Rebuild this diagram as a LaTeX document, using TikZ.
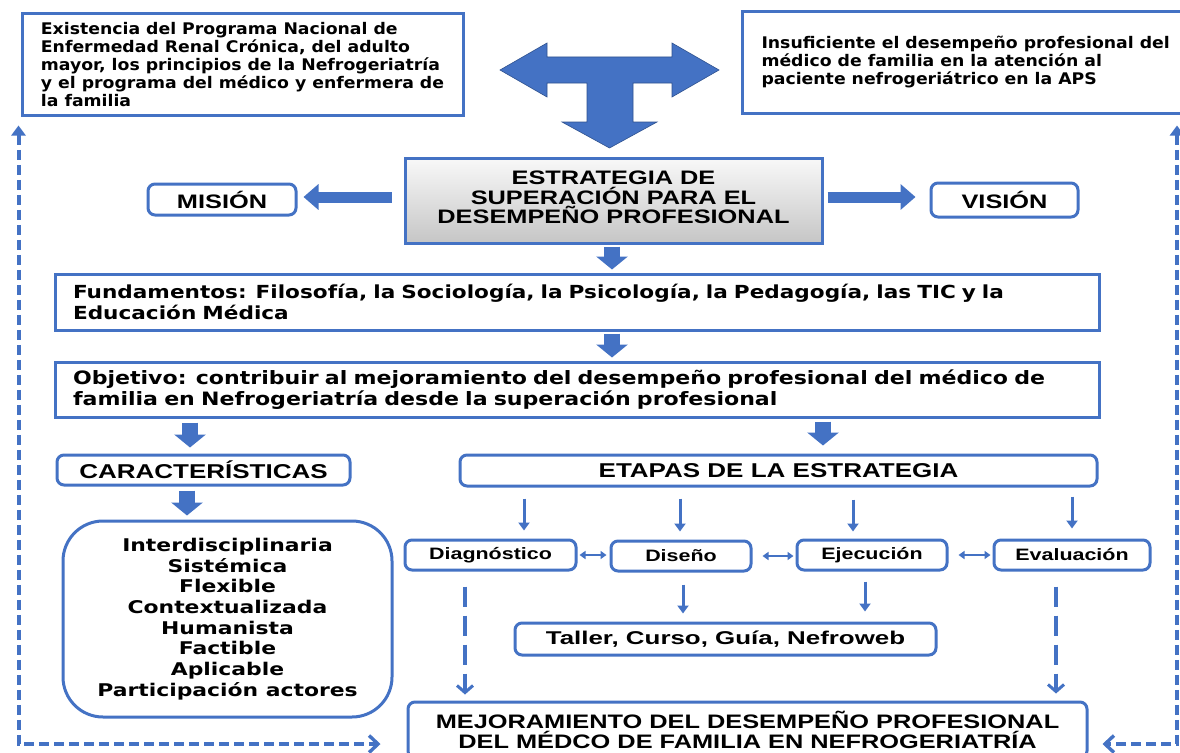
\documentclass[tikz,border=0pt]{standalone}
\usepackage{fontspec}
\setmainfont{Liberation Sans}
\newfontfamily\fv{DejaVu Sans}[FakeStretch=1.08]
\newfontfamily\fvm{DejaVu Sans}[FakeStretch=1.2]
\newfontfamily\fvw{DejaVu Sans}[FakeStretch=1.25]
\newfontfamily\fa{Liberation Sans}[FakeStretch=1.3]
\newfontfamily\fat{Liberation Sans}[FakeStretch=1.4]
\usetikzlibrary{arrows.meta,calc}
\definecolor{ob}{HTML}{4472C4}
\definecolor{obd}{HTML}{2F528F}
\begin{document}
\begin{tikzpicture}[x=1pt,y=-1pt,
  sq/.style={draw=ob, line width=3pt, fill=white, inner sep=0pt, align=center},
  rbox/.style={sq, rounded corners=7pt},
  blkd/.style={draw=ob, line width=16pt, -{Triangle[width=31pt,length=13pt]}},
  blkh/.style={draw=ob, line width=11pt, -{Triangle[width=25pt,length=15pt]}},
  tarr/.style={draw=ob, line width=3pt, -{Triangle[width=11pt,length=8pt]}},
  darr/.style={draw=ob, line width=1.8pt, {Triangle[width=8pt,length=6pt]}-{Triangle[width=8pt,length=6pt]}},
  dasharr/.style={draw=ob, line width=3.2pt, dash pattern=on 20pt off 9pt,
    -{Straight Barb[width=16pt,length=7pt,line width=3pt]}},
  fbline/.style={draw=ob, line width=4pt, dash pattern=on 10pt off 5pt,
    {Triangle[width=14pt,length=10pt]}-{Straight Barb[width=17pt,length=9pt,line width=3.4pt]}},
  fcal/.style={font=\fv\bfseries\fontsize{16}{18}\selectfont},
  farial/.style={font=\fa\bfseries\fontsize{19.5}{19.5}\selectfont},
  fstage/.style={font=\fa\bfseries\fontsize{16.5}{18}\selectfont}
]
\useasboundingbox (0,0) rectangle (1180,752);
\fill[white] (0,0) rectangle (1180,752);

% top boxes
\node[sq, fcal, align=left, minimum width=441pt, minimum height=101pt] (ant) at (242.5,64.5)
  {Existencia del Programa Nacional de\\Enfermedad Renal Crónica, del adulto\\mayor, los principios de la Nefrogeriatría\\y el programa del médico y enfermera de\\la familia};
\node[sq, fcal, align=left, anchor=west, inner xsep=19pt, minimum height=101pt] (prob) at (741,62.5)
  {Insuficiente el desempeño profesional del\\médico de familia en la atención al\\paciente nefrogeriátrico en la APS};

% T arrow
\filldraw[fill=ob, draw=obd, line width=0.6pt]
  (500,70) -- (547,43) -- (547,57) -- (672,57) -- (672,43) -- (719,70) -- (672,97) -- (672,83)
  -- (633,83) -- (633,122) -- (657,122) -- (609.5,148) -- (562,122) -- (587,122) -- (587,83)
  -- (547,83) -- (547,97) -- cycle;

% strategy
\node[sq, farial, top color=gray!5, bottom color=gray!45, minimum width=417pt, minimum height=85pt] (est) at (613.5,200.5)
  {ESTRATEGIA DE\\SUPERACIÓN PARA EL\\DESEMPEÑO PROFESIONAL\\[-13pt]\mbox{}};
\node[rbox, farial, minimum width=148pt, minimum height=31pt] (mis) at (222,199.5) {MISIÓN};
\node[rbox, farial, minimum width=147pt, minimum height=34pt] (vis) at (1004.5,200) {VISIÓN};
\draw[blkh, shorten <=12pt, shorten >=6pt] (est.west |- 0,197) -- (mis.east |- 0,197);
\draw[blkh, shorten <=4pt, shorten >=14pt] (est.east |- 0,197) -- (vis.west |- 0,197);

% fundamentos / objetivo
\node[sq, font=\fvm\bfseries\fontsize{18}{21.5}\selectfont, align=left, text width=1008pt, minimum width=1044pt, minimum height=56pt] (fun) at (577,302)
  {Fundamentos: Filosofía, la Sociología, la Psicología, la Pedagogía, las TIC y la\\Educación Médica};
\node[sq, font=\fvm\bfseries\fontsize{18.4}{21.5}\selectfont, align=left, text width=1008pt, minimum width=1044pt, minimum height=55pt] (obj) at (577,389.5)
  {Objetivo: contribuir al mejoramiento del desempeño profesional del médico de\\familia en Nefrogeriatría desde la superación profesional};
\draw[blkd, shorten <=2pt, shorten >=3pt] (612,0 |- est.south) -- (612,0 |- fun.north);
\draw[blkd, shorten <=2pt, shorten >=3pt] (612,0 |- fun.south) -- (612,0 |- obj.north);

% caracteristicas
\node[rbox, font=\fa\bfseries\fontsize{20}{20}\selectfont, minimum width=293pt, minimum height=30pt] (car) at (203.5,470) {CARACTERÍSTICAS};
\node[sq, rounded corners=40pt, font=\fvw\bfseries\fontsize{17.5}{20.7}\selectfont, minimum width=329pt, minimum height=196pt] (lst) at (227.5,619)
  {Interdisciplinaria\\Sistémica\\Flexible\\Contextualizada\\Humanista\\Factible\\Aplicable\\Participación actores};
\draw[blkd, shorten <=4pt, shorten >=6pt] (190,0 |- obj.south) -- (190,0 |- car.north);
\draw[blkd, shorten <=4pt, shorten >=4pt] (187,0 |- car.south) -- (187,0 |- lst.north);

% etapas
\node[rbox, font=\fa\bfseries\fontsize{20}{20}\selectfont, minimum width=637pt, minimum height=31pt] (eta) at (778.5,470.5) {ETAPAS DE LA ESTRATEGIA};
\draw[blkd, shorten <=3pt, shorten >=8pt] (823,0 |- obj.south) -- (823,0 |- eta.north);
\node[rbox, fstage, minimum width=171pt, minimum height=30pt] (diag) at (490.5,555) {Diagnóstico};
\node[rbox, fstage, minimum width=140pt, minimum height=30pt] (dis) at (681,556) {Diseño};
\node[rbox, fstage, minimum width=150pt, minimum height=30pt] (eje) at (872,555) {Ejecución};
\node[rbox, fstage, minimum width=156pt, minimum height=30pt] (eva) at (1072,555) {Evaluación};
\node[rbox, font=\fat\bfseries\fontsize{18.5}{19}\selectfont, minimum width=421pt, minimum height=32pt] (tal) at (725.5,639) {Taller, Curso, Guía, Nefroweb};
\node[rbox, farial, minimum width=679pt, minimum height=56pt] (mej) at (747.5,730)
  {MEJORAMIENTO DEL DESEMPEÑO PROFESIONAL\\DEL MÉDCO DE FAMILIA EN NEFROGERIATRÍA};

% etapas -> stages
\draw[tarr, shorten <=11pt, shorten >=8pt] (524,0 |- eta.south) -- (524,0 |- diag.north);
\draw[tarr, shorten <=11pt, shorten >=8pt] (680,0 |- eta.south) -- (680,0 |- dis.north);
\draw[tarr, shorten <=12pt, shorten >=7pt] (853,0 |- eta.south) -- (853,0 |- eje.north);
\draw[tarr, shorten <=9pt, shorten >=10pt] (1072,0 |- eta.south) -- (1072,0 |- eva.north);

% between stages
\draw[darr, shorten <=2pt, shorten >=3pt] (diag.east) -- (diag.east -| dis.west);
\draw[darr, shorten <=10pt, shorten >=2pt] (dis.east) -- (dis.east -| eje.west);
\draw[darr, shorten <=10pt, shorten >=2pt] (eje.east) -- (eje.east -| eva.west);

% stages -> products
\draw[tarr, shorten <=12pt, shorten >=8pt] (683,0 |- dis.south) -- (683,0 |- tal.north);
\draw[tarr, shorten <=10pt, shorten >=10pt] (865,0 |- eje.south) -- (865,0 |- tal.north);

% dashed to result
\draw[dasharr, shorten <=15pt, shorten >=6pt] (465,0 |- diag.south) -- (465,0 |- mej.north);
\draw[dasharr, shorten <=15pt, shorten >=7pt] (1056,0 |- eva.south) -- (1056,0 |- mej.north);

% feedback lines
\coordinate (lfoot) at ($(mej.west |- 0,744)+(-26,0)$);
\coordinate (rfoot) at ($(mej.east |- 0,744)+(14,0)$);
\draw[fbline] ($(ant.south west)+(-2,9)$) |- (lfoot);
\draw[fbline] ($(prob.south -| 1177,0)+(0,11)$) |- (rfoot);
\end{tikzpicture}
\end{document}
